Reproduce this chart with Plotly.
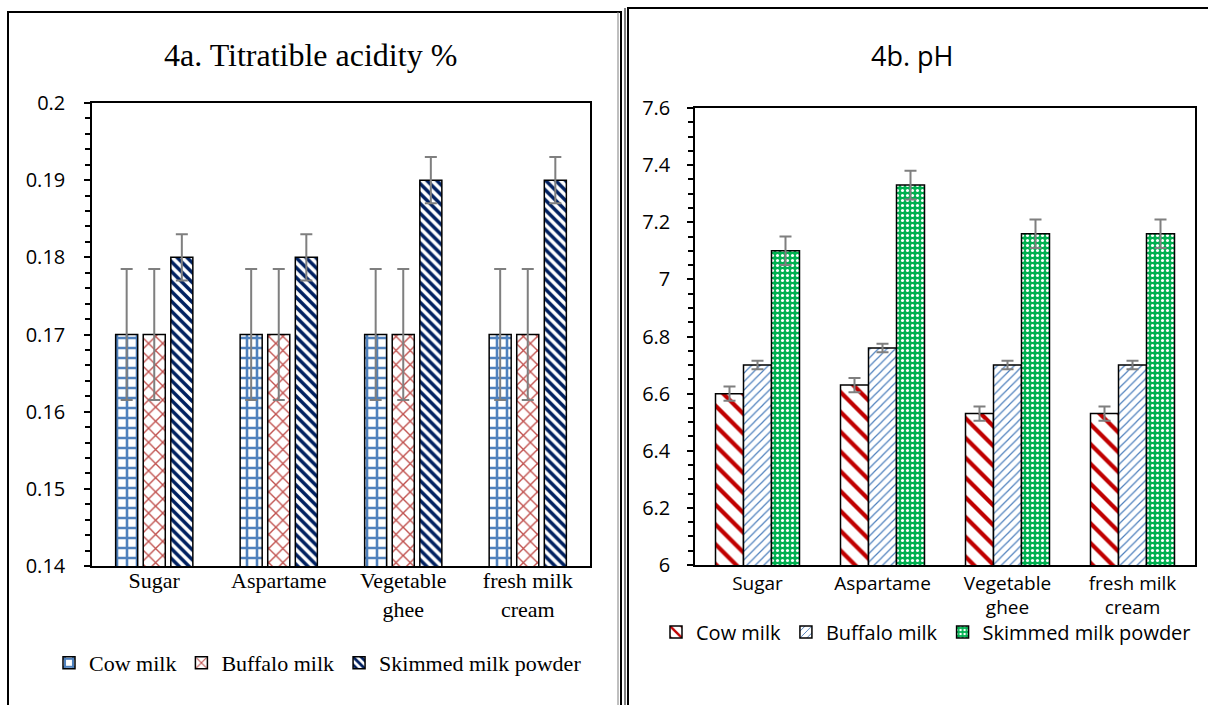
import plotly.graph_objects as go

categories = ["Sugar", "Aspartame", "Vegetable<br>ghee", "fresh milk<br>cream"]
series_names = ["Cow milk", "Buffalo milk", "Skimmed milk powder"]

# 4a Titratible acidity %
ta_cow = [0.17, 0.17, 0.17, 0.17]
ta_buffalo = [0.17, 0.17, 0.17, 0.17]
ta_skimmed = [0.18, 0.18, 0.19, 0.19]
ta_cow_err = [0.0085, 0.0085, 0.0085, 0.0085]
ta_buffalo_err = [0.0085, 0.0085, 0.0085, 0.0085]
ta_skimmed_err = [0.003, 0.003, 0.003, 0.003]

# 4b pH
ph_cow = [6.60, 6.63, 6.53, 6.53]
ph_buffalo = [6.70, 6.76, 6.70, 6.70]
ph_skimmed = [7.10, 7.33, 7.16, 7.16]
ph_cow_err = [0.025, 0.025, 0.025, 0.025]
ph_buffalo_err = [0.015, 0.015, 0.015, 0.015]
ph_skimmed_err = [0.05, 0.05, 0.05, 0.05]

W, H = 1208, 705
SERIF = "Liberation Serif"
SANS = "Open Sans"
ERR = dict(type="data", color="#7F7F7F", thickness=2, width=6)

def px_x(v):
    return v / W

def px_y(v):
    return 1 - v / H

fig = go.Figure()

right_specs = [
    (ph_cow, ph_cow_err, "white", dict(shape="\\", fgcolor="#C00000", bgcolor="white", size=14, solidity=0.3), -0.336),
    (ph_buffalo, ph_buffalo_err, "white", dict(shape="/", fgcolor="#4F81BD", bgcolor="white", size=6, solidity=0.2), -0.112),
    (ph_skimmed, ph_skimmed_err, "#00B050", dict(shape=".", fgcolor="white", bgcolor="#00B050", size=5, solidity=0.3), 0.112),
]
for name, (vals, errs, col, pat, off) in zip(series_names, right_specs):
    fig.add_trace(go.Bar(
        x=categories, y=vals, name=name, xaxis="x2", yaxis="y2", legend="legend",
        width=0.224, offset=off,
        marker=dict(color=col, pattern=dict(fillmode="replace", **pat),
                    line=dict(color="black", width=1.5)),
        error_y=dict(array=errs, **ERR),
    ))

left_specs = [
    (ta_cow, ta_cow_err, dict(shape="+", fgcolor="#4F81BD", bgcolor="white", size=10, solidity=0.45), -0.31),
    (ta_buffalo, ta_buffalo_err, dict(shape="x", fgcolor="#C0504D", bgcolor="white", size=10, solidity=0.25), -0.0885),
    (ta_skimmed, ta_skimmed_err, dict(shape="\\", fgcolor="#002060", bgcolor="white", size=7, solidity=0.5), 0.133),
]
for name, (vals, errs, pat, off) in zip(series_names, left_specs):
    fig.add_trace(go.Bar(
        x=categories, y=vals, name=name,
        xaxis="x", yaxis="y", legend="legend2",
        width=0.177, offset=off,
        marker=dict(color="white", pattern=dict(fillmode="replace", **pat),
                    line=dict(color="black", width=1.5)),
        error_y=dict(array=errs, **ERR),
    ))

axis_line = dict(showline=True, linecolor="black", linewidth=1.5, mirror=True,
                 showgrid=False, zeroline=False, automargin=False)

fig.update_layout(
    width=W, height=H, autosize=False,
    margin=dict(l=0, r=0, t=0, b=0, pad=0, autoexpand=False),
    paper_bgcolor="white", plot_bgcolor="white",
    font=dict(family=SERIF, color="black"),
    barmode="overlay",
    xaxis=dict(domain=[px_x(92), px_x(590)], anchor="y", type="category",
               tickfont=dict(family=SERIF, size=22, color="black"), ticks="",
               ticklabelstandoff=-6, **axis_line),
    yaxis=dict(domain=[px_y(566), px_y(103)], anchor="x", range=[0.14, 0.2],
               tickvals=[0.14, 0.15, 0.16, 0.17, 0.18, 0.19, 0.2],
               ticktext=["0.14", "0.15", "0.16", "0.17", "0.18", "0.19", "0.2"],
               ticks="outside", ticklen=6, tickwidth=1.5, tickcolor="black",
               minor=dict(dtick=0.002, ticks="outside", ticklen=5, tickwidth=1.5, tickcolor="black"),
               ticklabelstandoff=15,
               tickfont=dict(family=SANS, size=20, color="black"), **axis_line),
    xaxis2=dict(domain=[px_x(695), px_x(1195)], anchor="y2", type="category",
                tickfont=dict(family=SANS, size=19, color="black"), ticks="",
                ticklabelstandoff=0, **axis_line),
    yaxis2=dict(domain=[px_y(565), px_y(108)], anchor="x2", range=[6, 7.6],
                tickvals=[6, 6.2, 6.4, 6.6, 6.8, 7, 7.2, 7.4, 7.6],
                ticktext=["6", "6.2", "6.4", "6.6", "6.8", "7", "7.2", "7.4", "7.6"],
                ticks="outside", ticklen=6, tickwidth=1.5, tickcolor="black",
                minor=dict(dtick=0.05, ticks="outside", ticklen=5, tickwidth=1.5, tickcolor="black"),
                ticklabelstandoff=13,
                tickfont=dict(family=SANS, size=20, color="black"), **axis_line),
    legend=dict(orientation="h", x=px_x(926), xanchor="center", y=px_y(632), yanchor="middle",
                font=dict(family=SANS, size=20, color="black"), bgcolor="rgba(0,0,0,0)",
                itemwidth=30, traceorder="normal"),
    legend2=dict(orientation="h", x=px_x(318), xanchor="center", y=px_y(663), yanchor="middle",
                 font=dict(family=SERIF, size=22, color="black"), bgcolor="rgba(0,0,0,0)",
                 itemwidth=30, traceorder="normal"),
    annotations=[
        dict(text="4a. Titratible acidity %", x=px_x(310), y=px_y(55), xref="paper", yref="paper",
             xanchor="center", yanchor="middle",
             showarrow=False, font=dict(family=SERIF, size=32, color="black")),
        dict(text="4b. pH", x=px_x(913), y=px_y(55), xref="paper", yref="paper",
             xanchor="center", yanchor="middle",
             showarrow=False, font=dict(family=SANS, size=27, color="black")),
    ],
    shapes=[
        dict(type="rect", xref="paper", yref="paper", x0=px_x(8), x1=px_x(621), y0=-0.05, y1=px_y(12),
             line=dict(color="black", width=2)),
        dict(type="line", xref="paper", yref="paper", x0=px_x(618), x1=px_x(618), y0=-0.05, y1=px_y(12),
             line=dict(color="#808080", width=1)),
        dict(type="rect", xref="paper", yref="paper", x0=px_x(628), x1=1.05, y0=-0.05, y1=px_y(8),
             line=dict(color="black", width=2)),
        dict(type="line", xref="paper", yref="paper", x0=px_x(625), x1=px_x(625), y0=-0.05, y1=px_y(8),
             line=dict(color="black", width=1)),
    ],
)

post_js = """
document.body.style.margin='0';
document.body.style.overflow='hidden';
var gd = document.getElementById('{plot_id}');
function serifLegend(){
  var groups = gd.querySelectorAll('g.legend2 text.legendtext');
  groups.forEach(function(e){
    e.style.fontFamily = '"Liberation Serif", "Times New Roman", serif';
    e.querySelectorAll('tspan').forEach(function(t){ t.style.fontFamily = '"Liberation Serif", serif'; });
  });
}
serifLegend();
if (gd.on) { gd.on('plotly_afterplot', serifLegend); }
requestAnimationFrame(serifLegend);
setTimeout(serifLegend, 50);
setTimeout(serifLegend, 300);
"""

fig.write_html("out.html", config={"displayModeBar": False}, post_script=post_js)
